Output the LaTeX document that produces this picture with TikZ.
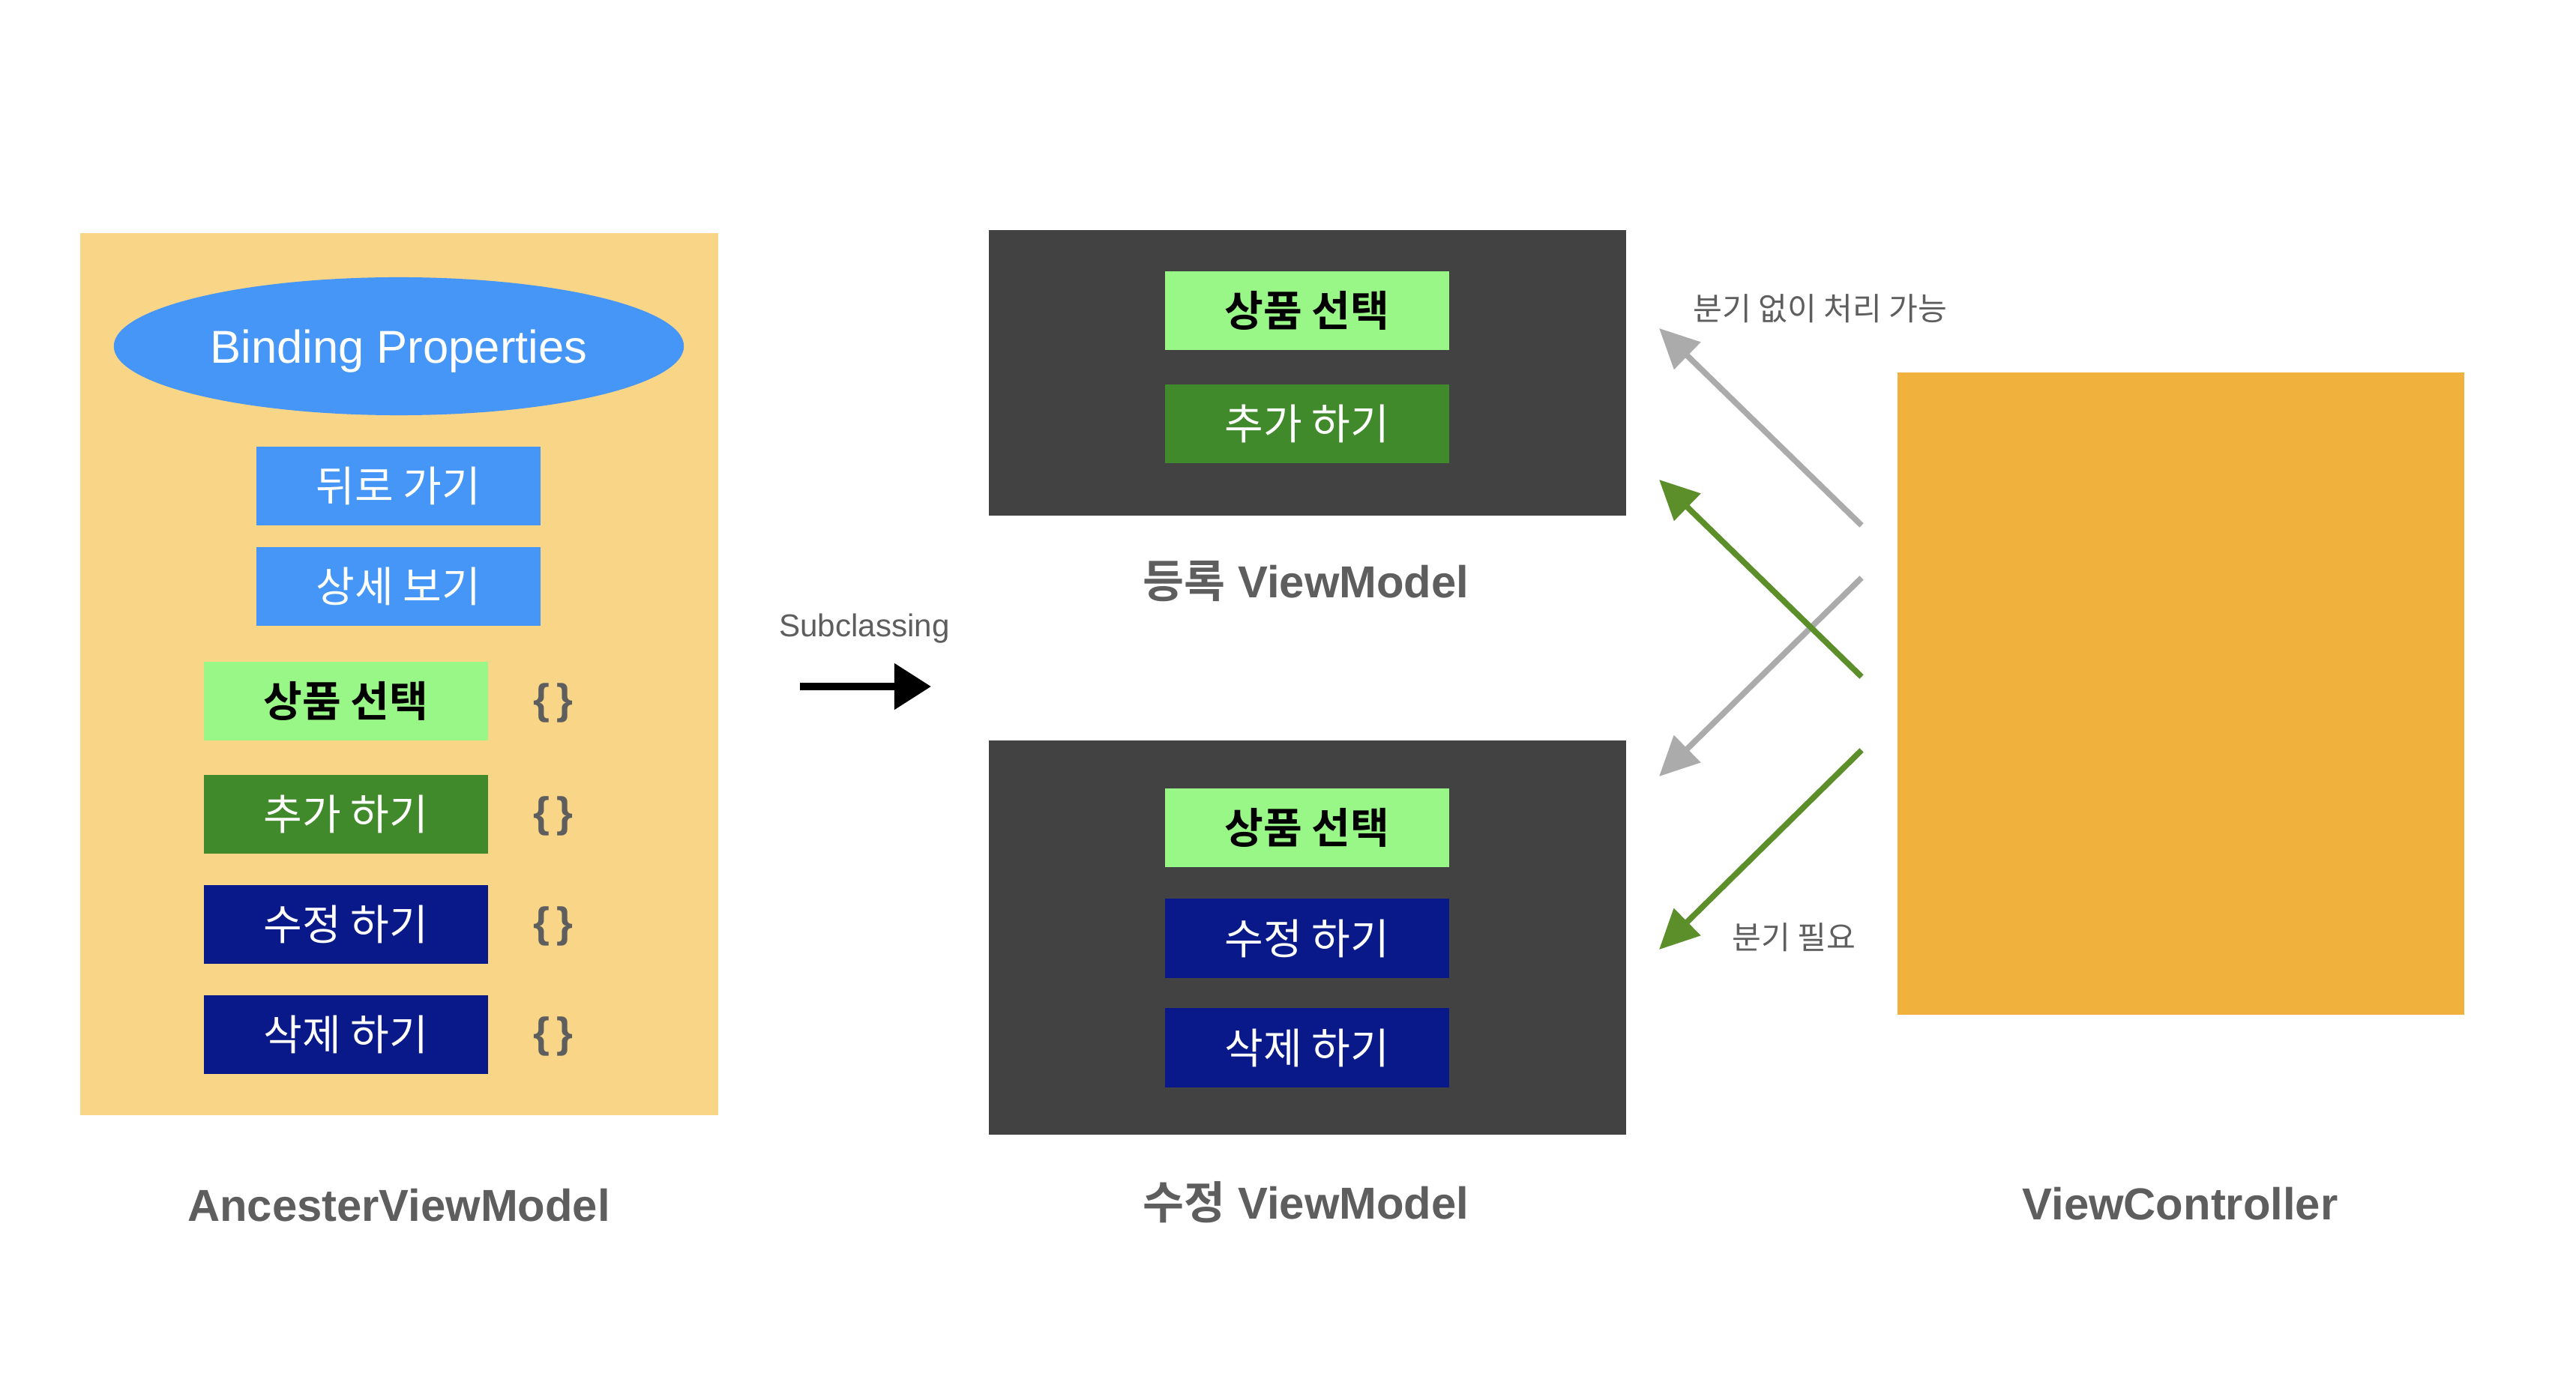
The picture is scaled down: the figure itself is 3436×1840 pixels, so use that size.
\documentclass[tikz,border=0pt]{standalone}
\usepackage{fontspec}
\setmainfont{Liberation Sans}
\newfontfamily\kr{Noto Sans CJK KR}[BoldFont={Noto Sans CJK KR Bold}]
\usetikzlibrary{shapes.geometric,arrows.meta}

\definecolor{ancbg}{HTML}{F8D587}
\definecolor{bindblue}{HTML}{4596F6}
\definecolor{selgreen}{HTML}{99F787}
\definecolor{addgreen}{HTML}{418A2B}
\definecolor{editnavy}{HTML}{09198A}
\definecolor{vmdark}{HTML}{424242}
\definecolor{vcorange}{HTML}{F0B13D}
\definecolor{labelgray}{HTML}{5E5E5E}
\definecolor{arrowgray}{HTML}{ABABAB}
\definecolor{arrowgreen}{HTML}{5C8E2A}

\begin{document}
\begin{tikzpicture}[
                x=0.01cm, y=-0.01cm,
                every node/.style={inner sep=0pt},
                func/.style={rectangle,minimum width=3.79cm,minimum height=1.05cm,
                    text=white,font=\kr\fontsize{16}{16}\selectfont},
                selbox/.style={func,fill=selgreen,text=black,
                    font=\kr\bfseries\fontsize{16}{16}\selectfont},
                addbox/.style={func,fill=addgreen},
                editbox/.style={func,fill=editnavy},
                navbox/.style={func,fill=bindblue},
                brace/.style={text=labelgray,font=\bfseries\fontsize{16}{16}\selectfont},
                title/.style={text=labelgray,font=\bfseries\fontsize{17}{17}\selectfont},
                note/.style={text=labelgray,font=\kr\fontsize{12}{12}\selectfont},
                greyarrow/.style={draw=arrowgray,line width=2.2pt,-{Triangle[length=15pt,width=14pt]}},
                greenarrow/.style={draw=arrowgreen,line width=2.2pt,-{Triangle[length=15pt,width=14pt]}}
            ]
            \useasboundingbox (0,0) rectangle (3436,1840);

            % AncesterViewModel
            \node[rectangle,fill=ancbg,minimum width=8.51cm,minimum height=11.77cm] (anc) at (532.5,899.5) {};
            \node[ellipse,fill=bindblue,minimum width=7.6cm,minimum height=1.84cm,
                text=white,font=\fontsize{17.5}{17.5}\selectfont] (bind) at (532,462) {\raisebox{-6.3pt}[0pt][0pt]{Binding Properties}};
            \node[navbox] (back) at (531.5,648.5) {뒤로 가기};
            \node[navbox] (detail) at (531.5,782.5) {상세 보기};
            \node[selbox] (sel) at (461.5,935.5) {상품 선택};
            \node[addbox] (add) at (461.5,1086.5) {추가 하기};
            \node[editbox] (edit) at (461.5,1233.5) {수정 하기};
            \node[editbox] (del) at (461.5,1380.5) {삭제 하기};
            \node[brace] (selbr) at (738,938) {\{\,\}};
            \node[brace] (addbr) at (738,1089) {\{\,\}};
            \node[brace] (editbr) at (738,1236) {\{\,\}};
            \node[brace] (delbr) at (738,1383) {\{\,\}};
            \node[title] (anclabel) at (532,1608) {AncesterViewModel};

            % Subclassing
            \node[text=labelgray,font=\fontsize{12}{12}\selectfont] (sublabel) at (1153,839) {Subclassing};
            \coordinate (subfrom) at (1067,916);
            \coordinate (subto) at (1242,916);
            \draw[line width=2.8pt,-{Triangle[length=14pt,width=17pt]}] (subfrom) -- (subto);

            % 등록 ViewModel
            \node[rectangle,fill=vmdark,minimum width=8.5cm,minimum height=3.81cm] (reg) at (1744,497.5) {};
            \node[selbox] (regsel) at (1743.5,414.5) {상품 선택};
            \node[addbox] (regadd) at (1743.5,565.5) {추가 하기};
            \node[title] (reglabel) at (1742,776) {{\kr 등록} ViewModel};

            % 수정 ViewModel
            \node[rectangle,fill=vmdark,minimum width=8.5cm,minimum height=5.26cm] (mod) at (1744,1251) {};
            \node[selbox] (modsel) at (1743.5,1104.5) {상품 선택};
            \node[editbox] (modedit) at (1743.5,1252) {수정 하기};
            \node[editbox] (moddel) at (1743.5,1398) {삭제 하기};
            \node[title] (modlabel) at (1742,1604) {{\kr 수정} ViewModel};

            % ViewController
            \node[rectangle,fill=vcorange,minimum width=7.56cm,minimum height=8.57cm] (vc) at (2909,925.5) {};
            \node[title] (vclabel) at (2908,1606) {ViewController};

            % arrows
            \coordinate (g1from) at (2483,701);
            \coordinate (g1to) at (2213,438);
            \coordinate (n1from) at (2483,903);
            \coordinate (n1to) at (2213,640);
            \coordinate (g2from) at (2483,771);
            \coordinate (g2to) at (2213,1036);
            \coordinate (n2from) at (2483,1001);
            \coordinate (n2to) at (2213,1267);
            \draw[greyarrow] (g1from) -- (g1to);
            \draw[greyarrow] (g2from) -- (g2to);
            \draw[greenarrow] (n1from) -- (n1to);
            \draw[greenarrow] (n2from) -- (n2to);
            \node[note] (freenote) at (2428,412) {분기 없이 처리 가능};
            \node[note] (neednote) at (2393,1251) {분기 필요};

        \end{tikzpicture}
\end{document}
